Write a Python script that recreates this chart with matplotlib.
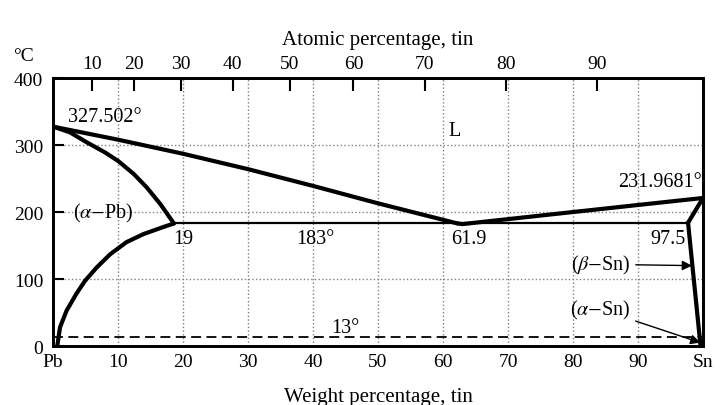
import matplotlib.pyplot as plt

plt.rcParams['font.family'] = ['Liberation Serif', 'DejaVu Serif']
plt.rcParams['mathtext.fontset'] = 'stix'

# weight percentage tin vs temperature (°C)
liq_left_x = [0, 10, 20, 30, 40, 50, 62.2]
liq_left_t = [327.5, 308, 287, 264, 239, 213, 183]
liq_right_x = [62.2, 63, 80, 100]
liq_right_t = [183, 182, 200, 221]
sol_left_x = [0, 2.6, 5.2, 8.0, 10.05, 12.4, 14.4, 16.5, 18.6]
sol_left_t = [327.5, 319, 304, 289, 276, 257, 237, 212, 183]
solvus_left_x = [0.66, 1.08, 2.1, 3.6, 4.9, 6.7, 8.8, 11.3, 13.9, 16.5, 18.6]
solvus_left_t = [0, 28, 53, 78, 97, 117, 137, 155, 167, 176, 183]
sol_right_x = [97.7, 100]
sol_right_t = [184, 221]
solvus_right_x = [97.7, 99.6]
solvus_right_t = [184, 2]
eut_x = [18.6, 97.7]
eut_t = [183, 183]
trans_t = 13

wt_ticks = [0, 10, 20, 30, 40, 50, 60, 70, 80, 90, 100]
wt_labels = ['Pb', '10', '20', '30', '40', '50', '60', '70', '80', '90', 'Sn']
at_ticks = [10, 20, 30, 40, 50, 60, 70, 80, 90]
t_ticks = [0, 100, 200, 300, 400]

M_SN, M_PB = 118.71, 207.2


def at_to_wt(a):
    return 100 * a * M_SN / (a * M_SN + (100 - a) * M_PB)


fig = plt.figure(figsize=(7.27, 4.06), dpi=100)
ax = fig.add_axes([0.0729, 0.1453, 0.8941, 0.66])

lw = 3
kw = dict(color='black', lw=lw, solid_joinstyle='round', solid_capstyle='round')
ax.plot(liq_left_x, liq_left_t, **kw)
ax.plot(liq_right_x, liq_right_t, **kw)
ax.plot(sol_left_x, sol_left_t, **kw)
ax.plot(solvus_left_x, solvus_left_t, **kw)
ax.plot(sol_right_x, sol_right_t, **kw)
ax.plot(solvus_right_x, solvus_right_t, **kw)
ax.plot(eut_x, eut_t, color='black', lw=1.6)
ax.plot([0, 100], [trans_t, trans_t], color='black', lw=1.3, ls=(0, (5.5, 3)))

tfs = 14
ax.set_xlim(0, 100)
ax.set_ylim(0, 400)
ax.set_xticks(wt_ticks)
ax.set_xticklabels(wt_labels)
ax.set_yticks(t_ticks)
ax.tick_params(axis='x', labelsize=tfs, length=0, pad=5)
ax.tick_params(axis='y', labelsize=tfs, direction='in', length=8, width=1.5, pad=7)
ax.grid(True, color='#808080', ls=':', lw=1)
for s in ax.spines.values():
    s.set_linewidth(2)
ax.set_xlabel('Weight percentage, tin', fontsize=15, labelpad=12)
ax.text(-0.045, 1.085, '°C', transform=ax.transAxes, fontsize=tfs, ha='center', va='center')

top = ax.twiny()
top.set_xlim(0, 100)
top.set_xticks([at_to_wt(a) for a in at_ticks])
top.set_xticklabels([str(a) for a in at_ticks])
top.tick_params(axis='x', direction='in', length=9, width=1.5, labelsize=tfs, pad=4)
top.set_xlabel('Atomic percentage, tin', fontsize=15, labelpad=8)
for s in top.spines.values():
    s.set_linewidth(2)

fs = 14.5
ax.text(2.3, 343, '327.502°', fontsize=fs, ha='left', va='center')
ax.text(61.8, 322, 'L', fontsize=fs, ha='center', va='center')
ax.text(99.9, 245, '231.9681°', fontsize=fs, ha='right', va='center')
ax.text(3.1, 200, r'($\alpha$$-$Pb)', fontsize=fs, ha='left', va='center')
ax.text(20, 160, '19', fontsize=fs, ha='center', va='center')
ax.text(40.3, 160, '183°', fontsize=fs, ha='center', va='center')
ax.text(63.9, 160, '61.9', fontsize=fs, ha='center', va='center')
ax.text(97.3, 160, '97.5', fontsize=fs, ha='right', va='center')
ax.text(45, 28, '13°', fontsize=fs, ha='center', va='center')
ax.annotate(r'($\beta$$-$Sn)', xy=(98.3, 120), xytext=(88.8, 122), fontsize=fs,
            ha='right', va='center',
            arrowprops=dict(arrowstyle='-|>', color='black', lw=1, shrinkA=2, shrinkB=0))
ax.annotate(r'($\alpha$$-$Sn)', xy=(99.6, 5), xytext=(88.8, 55), fontsize=fs,
            ha='right', va='center',
            arrowprops=dict(arrowstyle='-|>', color='black', lw=1, shrinkA=2, shrinkB=0))

fig.savefig('out.png', dpi=100)
